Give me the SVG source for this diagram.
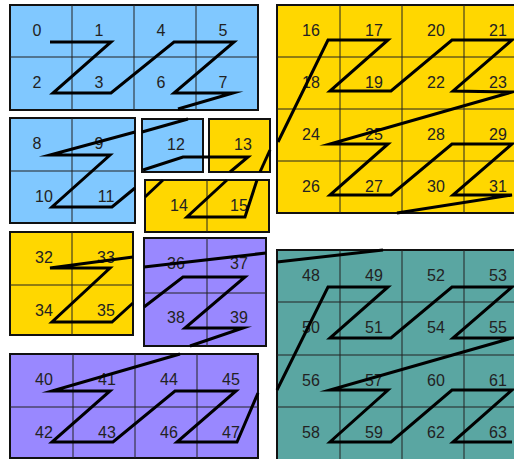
<svg xmlns="http://www.w3.org/2000/svg" width="514" height="459" viewBox="0 0 514 459">
<style>
.blue{fill:#80C8FF}
.yellow{fill:#FFD700}
.purple{fill:#9988FF}
.teal{fill:#5AA6A2}
.frame{stroke:#111;stroke-width:2}
.grid{stroke:#222;stroke-width:1;fill:none}
.lbl{font-family:"Liberation Sans",Arial,sans-serif;font-size:16px;fill:#222;text-anchor:middle}
.z{fill:none;stroke:#000;stroke-width:3;stroke-linejoin:miter;stroke-miterlimit:10}
</style>
<rect width="514" height="459" fill="#fff"/>
<g id="block-0-7">
<rect class="blue frame" x="10" y="5" width="248" height="105"/>
<path class="grid" d="M72 5V110M134 5V110M196 5V110M10 57H258"/>
<text class="lbl" x="37" y="36">0</text><text class="lbl" x="99" y="36">1</text><text class="lbl" x="161" y="36">4</text><text class="lbl" x="223" y="36">5</text>
<text class="lbl" x="37" y="88">2</text><text class="lbl" x="99" y="88">3</text><text class="lbl" x="161" y="88">6</text><text class="lbl" x="223" y="88">7</text>
</g>
<g id="block-8-11">
<rect class="blue frame" x="10" y="118" width="125" height="105"/>
<path class="grid" d="M72 118V223M10 171H135"/>
<text class="lbl" x="37" y="149">8</text><text class="lbl" x="99" y="149">9</text>
<text class="lbl" x="44" y="202">10</text><text class="lbl" x="106" y="202">11</text>
</g>
<g id="block-12">
<rect class="blue frame" x="142" y="119" width="61" height="53"/>
<text class="lbl" x="176" y="150">12</text>
</g>
<g id="block-13">
<rect class="yellow frame" x="209" y="119" width="61" height="53"/>
<text class="lbl" x="243" y="150">13</text>
</g>
<g id="block-14-15">
<rect class="yellow frame" x="145" y="180" width="124" height="52"/>
<path class="grid" d="M207 180V232"/>
<text class="lbl" x="179" y="211">14</text><text class="lbl" x="239" y="211">15</text>
</g>
<g id="block-16-31">
<rect class="yellow frame" x="277" y="5" width="250" height="208"/>
<path class="grid" d="M340 5V213M402 5V213M464 5V213M277 57H527M277 109H527M277 161H527"/>
<text class="lbl" x="311" y="36">16</text><text class="lbl" x="374" y="36">17</text><text class="lbl" x="436" y="36">20</text><text class="lbl" x="498" y="36">21</text>
<text class="lbl" x="311" y="88">18</text><text class="lbl" x="374" y="88">19</text><text class="lbl" x="436" y="88">22</text><text class="lbl" x="498" y="88">23</text>
<text class="lbl" x="311" y="140">24</text><text class="lbl" x="374" y="140">25</text><text class="lbl" x="436" y="140">28</text><text class="lbl" x="498" y="140">29</text>
<text class="lbl" x="311" y="192">26</text><text class="lbl" x="374" y="192">27</text><text class="lbl" x="436" y="192">30</text><text class="lbl" x="498" y="192">31</text>
</g>
<g id="block-32-35">
<rect class="yellow frame" x="10" y="232" width="123" height="103"/>
<path class="grid" d="M72 232V335M10 285H133"/>
<text class="lbl" x="44" y="263">32</text><text class="lbl" x="106" y="263">33</text>
<text class="lbl" x="44" y="316">34</text><text class="lbl" x="106" y="316">35</text>
</g>
<g id="block-36-39">
<rect class="purple frame" x="144" y="238" width="122" height="108"/>
<path class="grid" d="M207 238V346M144 293H266"/>
<text class="lbl" x="176" y="269">36</text><text class="lbl" x="239" y="269">37</text>
<text class="lbl" x="176" y="323">38</text><text class="lbl" x="239" y="323">39</text>
</g>
<g id="block-40-47">
<rect class="purple frame" x="10" y="354" width="248" height="104"/>
<path class="grid" d="M73 354V458M135 354V458M197 354V458M10 407H258"/>
<text class="lbl" x="44" y="385">40</text><text class="lbl" x="107" y="385">41</text><text class="lbl" x="169" y="385">44</text><text class="lbl" x="231" y="385">45</text>
<text class="lbl" x="44" y="438">42</text><text class="lbl" x="107" y="438">43</text><text class="lbl" x="169" y="438">46</text><text class="lbl" x="231" y="438">47</text>
</g>
<g id="block-48-63">
<rect class="teal frame" x="277" y="250" width="250" height="220"/>
<path class="grid" d="M340 250V470M402 250V470M464 250V470M277 302H527M277 355H527M277 407H527"/>
<text class="lbl" x="311" y="281">48</text><text class="lbl" x="374" y="281">49</text><text class="lbl" x="436" y="281">52</text><text class="lbl" x="498" y="281">53</text>
<text class="lbl" x="311" y="333">50</text><text class="lbl" x="374" y="333">51</text><text class="lbl" x="436" y="333">54</text><text class="lbl" x="498" y="333">55</text>
<text class="lbl" x="311" y="386">56</text><text class="lbl" x="374" y="386">57</text><text class="lbl" x="436" y="386">60</text><text class="lbl" x="498" y="386">61</text>
<text class="lbl" x="311" y="438">58</text><text class="lbl" x="374" y="438">59</text><text class="lbl" x="436" y="438">62</text><text class="lbl" x="498" y="438">63</text>
</g>
<g id="connectors">
<polyline class="z" points="50,42 111,42 53,93 111,93 174,42 234,42 174,93 233,93 178,109"/>
<polyline class="z" points="135,132 50,155 110,155 52,207 112,207 135,188"/>
<polyline class="z" points="188,119 142,132"/>
<polyline class="z" points="143,170 183,157 209,157 248,157 230,172"/>
<polyline class="z" points="260,172 270,150"/>
<polyline class="z" points="145,197 163,180"/>
<polyline class="z" points="227,180 187,217 245,217 257,180"/>
<polyline class="z" points="278,142 328,40 388,40 330,91 391,91 452,40 512,40 453,91 512,92 330,144 388,144 330,195 391,195 452,144 512,144 453,195 512,195 397,213"/>
<polyline class="z" points="133,257 50,268 110,268 52,322 112,322 133,303"/>
<polyline class="z" points="266,253 144,267"/>
<polyline class="z" points="144,307 183,277 245,277 185,328 243,328 190,346"/>
<polyline class="z" points="180,354 52,391 110,391 52,442 113,442 175,391 236,391 177,442 237,442 258,393"/>
<polyline class="z" points="277,262 383,250"/>
<polyline class="z" points="277,390 328,287 388,287 330,338 391,338 452,287 512,287 453,338 512,338 330,390 388,390 330,442 391,442 452,390 512,390 453,442 512,442"/>
</g>
</svg>
